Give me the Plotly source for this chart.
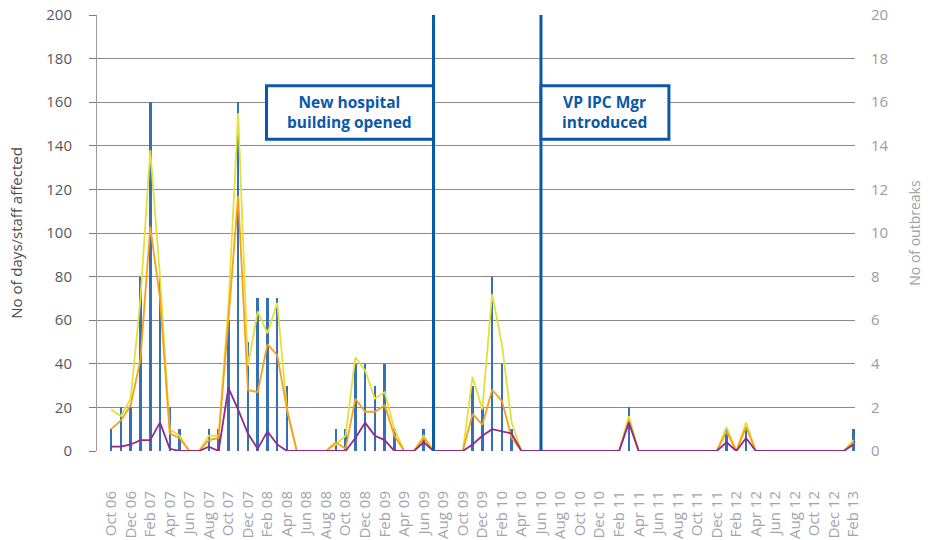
import plotly.graph_objects as go

# ---- data (monthly, Oct 06 .. Feb 13) ----
months = ["Oct 06", "Nov 06", "Dec 06", "Jan 07", "Feb 07", "Mar 07", "Apr 07", "May 07", "Jun 07", "Jul 07",
          "Aug 07", "Sep 07", "Oct 07", "Nov 07", "Dec 07", "Jan 08", "Feb 08", "Mar 08", "Apr 08", "May 08",
          "Jun 08", "Jul 08", "Aug 08", "Sep 08", "Oct 08", "Nov 08", "Dec 08", "Jan 09", "Feb 09", "Mar 09",
          "Apr 09", "May 09", "Jun 09", "Jul 09", "Aug 09", "Sep 09", "Oct 09", "Nov 09", "Dec 09", "Jan 10",
          "Feb 10", "Mar 10", "Apr 10", "May 10", "Jun 10", "Jul 10", "Aug 10", "Sep 10", "Oct 10", "Nov 10",
          "Dec 10", "Jan 11", "Feb 11", "Mar 11", "Apr 11", "May 11", "Jun 11", "Jul 11", "Aug 11", "Sep 11",
          "Oct 11", "Nov 11", "Dec 11", "Jan 12", "Feb 12", "Mar 12", "Apr 12", "May 12", "Jun 12", "Jul 12",
          "Aug 12", "Sep 12", "Oct 12", "Nov 12", "Dec 12", "Jan 13", "Feb 13"]

tick_labels = ["Oct 06", "Dec 06", "Feb 07", "Apr 07", "Jun 07", "Aug 07", "Oct 07", "Dec 07", "Feb 08",
               "Apr 08", "Jun 08", "Aug 08", "Oct 08", "Dec 08", "Feb 09", "Apr 09", "Jun 09", "Aug 09",
               "Oct 09", "Dec 09", "Feb 10", "Apr 10", "Jun 10", "Aug 10", "Oct 10", "Dec 10", "Feb 11",
               "Apr 11", "Jun 11", "Aug 11", "Oct 11", "Dec 11", "Feb 12", "Apr 12", "Jun 12", "Aug 12",
               "Oct 12", "Dec 12", "Feb 13"]

outbreaks = [1, 2, 2, 8, 16, 8, 2, 1, 0, 0,
             1, 1, 6, 16, 5, 7, 7, 7, 3, 0,
             0, 0, 0, 1, 1, 4, 4, 3, 4, 1,
             0, 0, 1, 0, 0, 0, 0, 3, 2, 8,
             4, 1, 0, 0, 0, 0, 0, 0, 0, 0,
             0, 0, 0, 2, 0, 0, 0, 0, 0, 0,
             0, 0, 0, 1, 0, 1, 0, 0, 0, 0,
             0, 0, 0, 0, 0, 0, 1]

days_yellow = [19, 16, 24, 70, 138, 80, 10, 7, 0, 0,
               7, 7, 66, 155, 39, 64, 54, 68, 19, 0,
               0, 0, 0, 3, 7, 43, 37, 24, 27, 10,
               0, 0, 7, 0, 0, 0, 0, 34, 19, 72,
               49, 13, 0, 0, 0, 0, 0, 0, 0, 0,
               0, 0, 0, 16, 0, 0, 0, 0, 0, 0,
               0, 0, 0, 11, 0, 13, 0, 0, 0, 0,
               0, 0, 0, 0, 0, 0, 5]

days_orange = [10, 14, 21, 42, 103, 70, 8, 6, 0, 0,
               5, 6, 60, 117, 28, 27, 49, 44, 19, 0,
               0, 0, 0, 4, 1, 24, 18, 18, 21, 7,
               0, 0, 6, 0, 0, 0, 0, 17, 12, 28,
               23, 6, 0, 0, 0, 0, 0, 0, 0, 0,
               0, 0, 0, 14, 0, 0, 0, 0, 0, 0,
               0, 0, 0, 9, 0, 11, 0, 0, 0, 0,
               0, 0, 0, 0, 0, 0, 4]

staff_purple = [2, 2, 3, 5, 5, 13, 1, 0, 0, 0,
                2, 0, 29, 19, 8, 1, 9, 3, 0, 0,
                0, 0, 0, 0, 0, 6, 13, 7, 5, 0,
                0, 0, 4, 0, 0, 0, 0, 3, 7, 10,
                9, 8, 0, 0, 0, 0, 0, 0, 0, 0,
                0, 0, 0, 13, 0, 0, 0, 0, 0, 0,
                0, 0, 0, 4, 0, 6, 0, 0, 0, 0,
                0, 0, 0, 0, 0, 0, 3]

event_months = ["Jul 09", "Jun 10"]
event_texts = ["New hospital<br>building opened", "VP IPC Mgr<br>introduced"]

# ---- figure ----
x = list(range(len(months)))
tickvals = [months.index(t) for t in tick_labels]
event_idx = [months.index(m) for m in event_months]

BLUE = "#0a58a8"
fig = go.Figure()

fig.add_trace(go.Bar(x=x, y=outbreaks, yaxis="y", width=0.26,
                     marker=dict(color="#3570b6", line=dict(width=0)),
                     name="No of outbreaks", hovertext=months))
fig.add_trace(go.Scatter(x=x, y=days_yellow, yaxis="y2", mode="lines",
                         line=dict(color="#e4e03a", width=1.8), name="Days"))
fig.add_trace(go.Scatter(x=x, y=days_orange, yaxis="y2", mode="lines",
                         line=dict(color="#f7a11a", width=1.8), name="Days (2)"))
fig.add_trace(go.Scatter(x=x, y=staff_purple, yaxis="y2", mode="lines",
                         line=dict(color="#922a8e", width=1.8), name="Staff affected"))

shapes = []
annotations = []
box_spans = [(15.9, event_idx[0]), (event_idx[1], 57.1)]
for i, ev in enumerate(event_idx):
    shapes.append(dict(type="line", xref="x", yref="y2", x0=ev, x1=ev, y0=0, y1=200,
                       line=dict(color=BLUE, width=3), layer="above"))
    bx0, bx1 = box_spans[i]
    shapes.append(dict(type="rect", xref="x", yref="y2", x0=bx0, x1=bx1, y0=143, y1=167.5,
                       line=dict(color=BLUE, width=3), fillcolor="white", layer="above"))
    annotations.append(dict(x=(bx0 + bx1) / 2, y=155.3, xref="x", yref="y2", text=event_texts[i],
                            showarrow=False, font=dict(family="Open Sans", size=15.5, color=BLUE,
                                                       weight="bold"),
                            align="center", yanchor="middle", xanchor="center"))

fig.update_layout(
    width=931, height=540,
    margin=dict(l=97, r=76, t=15, b=89),
    plot_bgcolor="white", paper_bgcolor="white",
    showlegend=False, bargap=0,
    font=dict(family="Open Sans", color="#58585a"),
    xaxis=dict(range=[-1.45, 76.15], tickmode="array", tickvals=tickvals, ticktext=tick_labels,
               tickangle=-90, tickfont=dict(size=15, color="#a3a3aa"), showgrid=False,
               zeroline=False, showline=False, ticks="", ticklabelstandoff=36, automargin=False),
    yaxis=dict(range=[0, 20], dtick=2, side="right", showgrid=True, gridcolor="#8a8a8c",
               gridwidth=1, zeroline=False, showline=False, ticks="", automargin=False,
               tickfont=dict(size=15, color="#9a9a9c"), ticklabelstandoff=15,
               title=dict(text="No of outbreaks", font=dict(size=14, color="#a0a0a2"), standoff=22)),
    yaxis2=dict(range=[0, 200], dtick=20, side="left", overlaying="y", showgrid=False,
                zeroline=False, showline=True, linecolor="#9a9a9c", linewidth=1, automargin=False,
                ticks="outside", ticklen=7, tickcolor="#7a7a7c",
                tickfont=dict(size=15, color="#58585a"), ticklabelstandoff=14,
                title=dict(text="No of days/staff affected", font=dict(size=15, color="#4a4a4c"),
                           standoff=20)),
    shapes=shapes, annotations=annotations,
)

fig.write_html("out.html", config={"displayModeBar": False},
               post_script="document.body.style.margin='0';")
